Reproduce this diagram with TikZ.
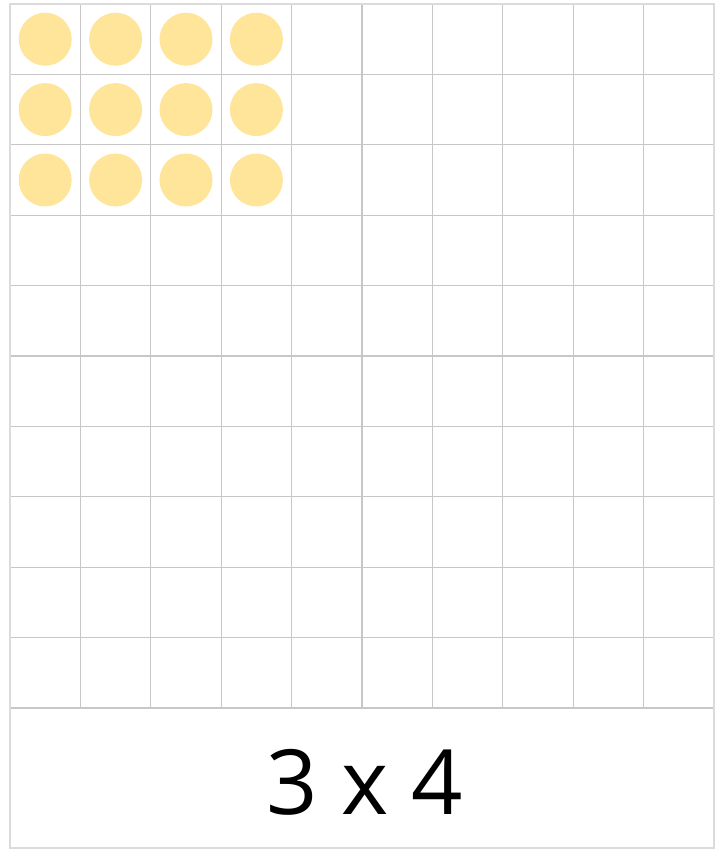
\documentclass[tikz,border=0pt]{standalone}
\usepackage{fontspec}
\setmainfont{Open Sans}
\begin{document}
\begin{tikzpicture}[x=1pt,y=-1pt,
  gridline/.style={draw=black!22,line width=1.2pt},
  outerline/.style={draw=black!14,line width=2.2pt},
  dot/.style={circle,fill=dotyellow,draw=none,minimum size=53pt,inner sep=0pt},
  label/.style={font=\fontsize{90}{90}\selectfont,text=black}]
\definecolor{dotyellow}{HTML}{FFE599}
\useasboundingbox (0,0) rectangle (726,850);
\fill[white] (0,0) rectangle (726,850);
% grid lines
\foreach \i in {1,...,9} {
  \draw[gridline] ({10+70.4*\i},4) -- ({10+70.4*\i},708);
}
\foreach \j in {1,...,10} {
  \draw[gridline] (10,{4+70.4*\j}) -- (714,{4+70.4*\j});
}
\draw[outerline] (10,4) rectangle (714,848);
% dots
\foreach \r in {0,1,2} {
  \foreach \c in {0,1,2,3} {
    \node[dot] (d\r\c) at ({45.2+70.4*\c},{39.2+70.4*\r}) {};
  }
}
\node[label] (prod) at (365,782) {3 x 4};
\end{tikzpicture}
\end{document}
